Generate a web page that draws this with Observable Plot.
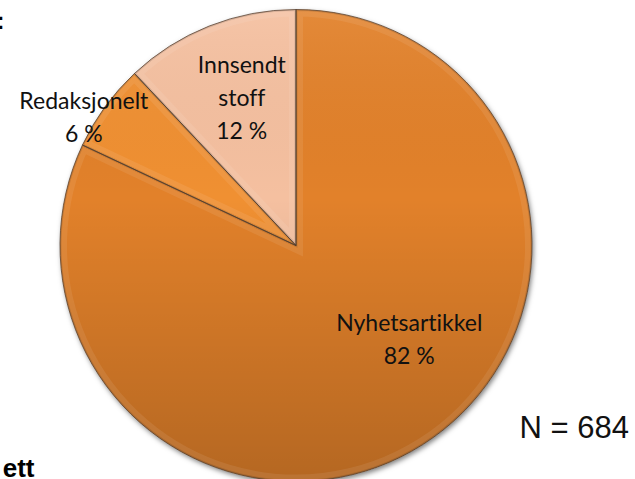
<!DOCTYPE html>
<html><head><meta charset="utf-8">
<script src="https://cdn.jsdelivr.net/npm/d3@7"></script>
<script src="https://cdn.jsdelivr.net/npm/@observablehq/plot@0.6"></script>
<style>body{margin:0;background:#fff} #chart svg{display:block;overflow:visible}</style>
</head><body><div id="chart"></div>
<script>
// ---- data ----
const categories = ["Nyhetsartikkel", "Redaksjonelt", "Innsendt stoff"];
const shares = [82, 6, 12];
const labelLines = [["Nyhetsartikkel"], ["Redaksjonelt"], ["Innsendt", "stoff"]];
const sampleSize = 684;
const sliceColors = ["#E2812A", "#F09031", "#F5C0A0"];

// ---- layout (label placement relative to slice geometry, radius in pie radii) ----
const labelRadius = [0.613, 1.058, 0.678];
const labelShiftDeg = [-18.8, -4.4, 1.6];

const W = 635, H = 479, CX = 296, CY = 245.5, R = 236;
const xDomain = [(0 - CX) / R, (W - CX) / R];
const yDomain = [-(H - CY) / R, CY / R];

const arcs = d3.pie().sort(null).value(d => d)(shares);
const pieData = arcs.map((a, i) => ({category: categories[i], share: shares[i], color: sliceColors[i], start: a.startAngle, end: a.endAngle}));

const labels = pieData.map((d, i) => {
  const mid = (d.start + d.end) / 2 + labelShiftDeg[i] * Math.PI / 180;
  return {
    x: labelRadius[i] * Math.sin(mid),
    y: labelRadius[i] * Math.cos(mid),
    text: labelLines[i].concat([d.share + " %"]).join("\n")
  };
});

function pieMark(index, scales) {
  const cx = scales.x(0), cy = scales.y(0), r = scales.x(1) - scales.x(0);
  const g = d3.create("svg:g");
  const defs = g.append("defs");
  const sh = defs.append("filter").attr("id", "pshadow").attr("x", "-20%").attr("y", "-20%").attr("width", "140%").attr("height", "140%");
  sh.append("feDropShadow").attr("dx", 1.5).attr("dy", 2.5).attr("stdDeviation", 2.5).attr("flood-color", "#000").attr("flood-opacity", 0.5);
  const lg = defs.append("linearGradient").attr("id", "pshade").attr("x1", 0).attr("y1", 0).attr("x2", 0).attr("y2", 1);
  lg.append("stop").attr("offset", "0%").attr("stop-color", "#fff").attr("stop-opacity", 0.07);
  lg.append("stop").attr("offset", "40%").attr("stop-color", "#000").attr("stop-opacity", 0.0);
  lg.append("stop").attr("offset", "100%").attr("stop-color", "#000").attr("stop-opacity", 0.2);
  const arc = d3.arc().innerRadius(0).outerRadius(r);
  const root = g.append("g").attr("transform", `translate(${cx},${cy})`);
  const base = root.append("g").attr("filter", "url(#pshadow)");
  pieData.forEach((d, i) => {
    const p = arc({startAngle: d.start, endAngle: d.end});
    defs.append("clipPath").attr("id", "pclip" + i).append("path").attr("transform", `translate(${cx},${cy})`).attr("d", p);
    base.append("path").attr("d", p).attr("fill", d.color);
  });
  root.append("circle").attr("r", r).attr("fill", "url(#pshade)");
  // subtle bevel per slice
  pieData.forEach((d, i) => {
    const p = arc({startAngle: d.start, endAngle: d.end});
    const bg = g.append("g").attr("clip-path", `url(#pclip${i})`).append("g").attr("transform", `translate(${cx},${cy})`);
    bg.append("path").attr("d", p).attr("fill", "none").attr("stroke", "#fff").attr("stroke-opacity", 0.08).attr("stroke-width", 14);
    bg.append("path").attr("d", p).attr("fill", "none").attr("stroke", "#000").attr("stroke-opacity", 0.12).attr("stroke-width", 3);
  });
  pieData.forEach((d) => {
    const p = arc({startAngle: d.start, endAngle: d.end});
    root.append("path").attr("d", p).attr("fill", "none").attr("stroke", "#4a3526").attr("stroke-opacity", 0.8).attr("stroke-width", 0.9).attr("stroke-linejoin", "round");
  });
  return g.node();
}

const chart = Plot.plot({
  width: W, height: H,
  margin: 0,
  style: {fontVariantLigatures: "none", background: "#fff"},
  x: {domain: xDomain, axis: null},
  y: {domain: yDomain, axis: null},
  marks: [
    pieMark,
    Plot.text(labels, {x: "x", y: "y", text: "text", fontFamily: "Lato, 'Open Sans', sans-serif", fontSize: 23, lineHeight: 1.43, fill: "#111", textAnchor: "middle", lineAnchor: "middle"}),
    Plot.text([`N = ${sampleSize}`], {frameAnchor: "top-left", dx: 519, dy: 428, text: d => d, fontFamily: "'Liberation Sans', Arial, sans-serif", fontSize: 31, fill: "#111", textAnchor: "start", lineAnchor: "middle"}),
    Plot.text(["ett"], {frameAnchor: "top-left", dx: 34, dy: 468.5, text: d => d, fontFamily: "'Liberation Sans', Arial, sans-serif", fontWeight: "bold", fontSize: 26, fill: "#000", textAnchor: "end", lineAnchor: "middle"}),
    Plot.text([":"], {frameAnchor: "top-left", dx: 4, dy: 21, text: d => d, fontFamily: "'Liberation Sans', Arial, sans-serif", fontWeight: "bold", fontSize: 24, fill: "#000", textAnchor: "end", lineAnchor: "middle"})
  ]
});
document.getElementById("chart").append(chart);
</script>
</body></html>
